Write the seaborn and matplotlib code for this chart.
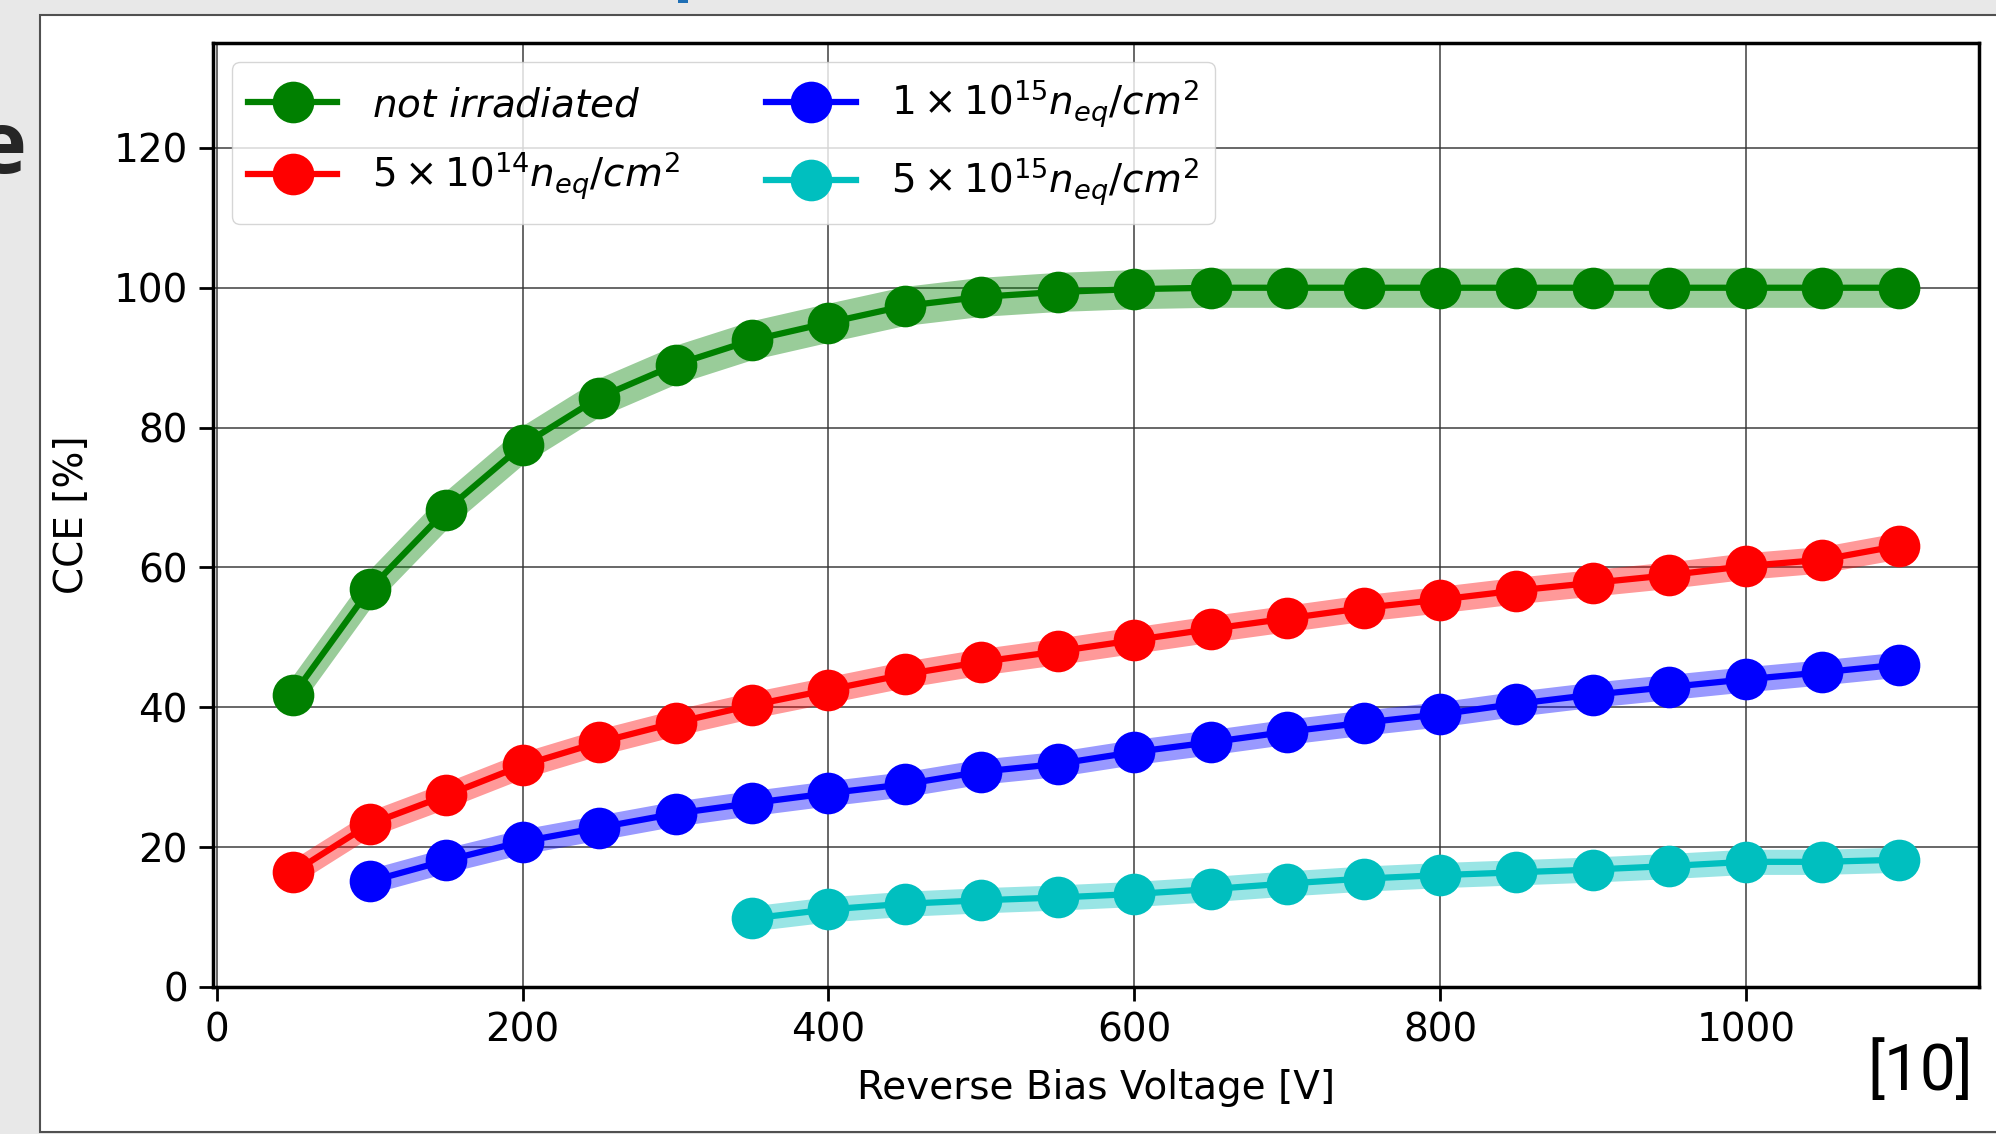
import matplotlib
matplotlib.use('Agg')
import matplotlib.pyplot as plt
from matplotlib.patches import Rectangle
import pandas as pd
import seaborn as sns

# bias voltages [V]
volt_all = [50, 100, 150, 200, 250, 300, 350, 400, 450, 500, 550,
            600, 650, 700, 750, 800, 850, 900, 950, 1000, 1050, 1100]
volt_1e15 = volt_all[1:]
volt_5e15 = volt_all[6:]

# CCE [%] per fluence
cce_0 = [41.8, 56.9, 68.2, 77.5, 84.3, 89.0, 92.5, 95.0, 97.4, 98.7, 99.4,
         99.8, 100.0, 100.0, 100.0, 100.0, 100.0, 100.0, 100.0, 100.0, 100.0, 100.0]
cce_5e14 = [16.4, 23.3, 27.4, 31.7, 35.0, 37.8, 40.3, 42.5, 44.7, 46.5, 48.0,
            49.6, 51.2, 52.7, 54.2, 55.4, 56.7, 57.8, 58.9, 60.2, 61.1, 63.1]
cce_1e15 = [15.1, 18.1, 20.8, 22.8, 24.8, 26.3, 27.7, 29.0, 30.8, 31.9,
            33.6, 35.0, 36.5, 37.8, 39.0, 40.5, 41.8, 42.9, 44.0, 45.0, 46.1]
cce_5e15 = [9.8, 11.1, 11.9, 12.4, 12.8, 13.3, 14.0, 14.8, 15.5, 16.0,
            16.4, 16.8, 17.3, 17.9, 17.9, 18.2]

# half width of the shaded band [%]
band = [2.8, 1.9, 1.8, 1.8]

labels = [r'$not\ irradiated$',
          r'$5\times10^{14}n_{eq}/cm^2$',
          r'$1\times10^{15}n_{eq}/cm^2$',
          r'$5\times10^{15}n_{eq}/cm^2$']
colors = ['green', 'red', 'blue', 'c']

series = [(volt_all, cce_0), (volt_all, cce_5e14),
          (volt_1e15, cce_1e15), (volt_5e15, cce_5e15)]

plt.rcParams['font.family'] = ['DejaVu Sans']
plt.rcParams['mathtext.fontset'] = 'dejavusans'

fig = plt.figure(figsize=(19.96, 11.34), dpi=100, facecolor='#e8e8e8')
# white slide panel behind the plot
fig.patches.append(Rectangle((40 / 1996, 0.002), 1 - 40 / 1996 + 0.01, 1 - 15 / 1134 - 0.002,
                             transform=fig.transFigure, facecolor='white',
                             edgecolor='#505050', linewidth=1.5, zorder=-5))
fig.patches.append(Rectangle((678 / 1996, 1 - 3 / 1134), 10 / 1996, 3 / 1134,
                             transform=fig.transFigure, facecolor='#1f6fb5',
                             edgecolor='none', zorder=-4))

ax = fig.add_axes([213 / 1996, 1 - 987 / 1134, (1979 - 213) / 1996, (987 - 43) / 1134])
ax.set_facecolor('white')

for (x, y), lab, c, b in zip(series, labels, colors, band):
    df = pd.DataFrame({'V': x, 'CCE': y})
    ax.fill_between(df['V'], df['CCE'] - b, df['CCE'] + b, color=c, alpha=0.4,
                    linewidth=0, zorder=2)
    sns.lineplot(data=df, x='V', y='CCE', ax=ax, color=c, marker='o', markersize=30,
                 markeredgewidth=0, linewidth=4.5, label=lab, legend=False, zorder=3)

ax.set_ylim(0, 135)
ax.set_xlim(-2.5, 1152.5)
ax.set_xticks([0, 200, 400, 600, 800, 1000])
ax.set_yticks([0, 20, 40, 60, 80, 100, 120])
ax.grid(True, color='#333333', linewidth=1.3, alpha=0.8)
ax.set_axisbelow(True)
for s in ax.spines.values():
    s.set_linewidth(2.5)
ax.tick_params(labelsize=28, length=10, width=2, pad=8)

ax.set_xlabel('Reverse Bias Voltage [V]', fontsize=28, labelpad=14)
ax.set_ylabel('CCE [%]', fontsize=28, labelpad=16)

handles = ax.get_lines()
ax.legend(handles, labels, loc='upper left', ncol=2, fontsize=28,
          handlelength=2.3, columnspacing=2.2, labelspacing=0.65, handletextpad=0.9)

fig.text(1973 / 1996, 1 - 1072 / 1134, '[10]', ha='right', va='center', fontsize=46,
         family=['Roboto', 'DejaVu Sans'])
fig.text(26 / 1996, 1 - 173 / 1134, 'e', ha='right', va='baseline', fontsize=62,
         fontweight='bold', color='#262626', family=['Open Sans', 'DejaVu Sans'])

plt.savefig('out.png', dpi=100, facecolor=fig.get_facecolor())
